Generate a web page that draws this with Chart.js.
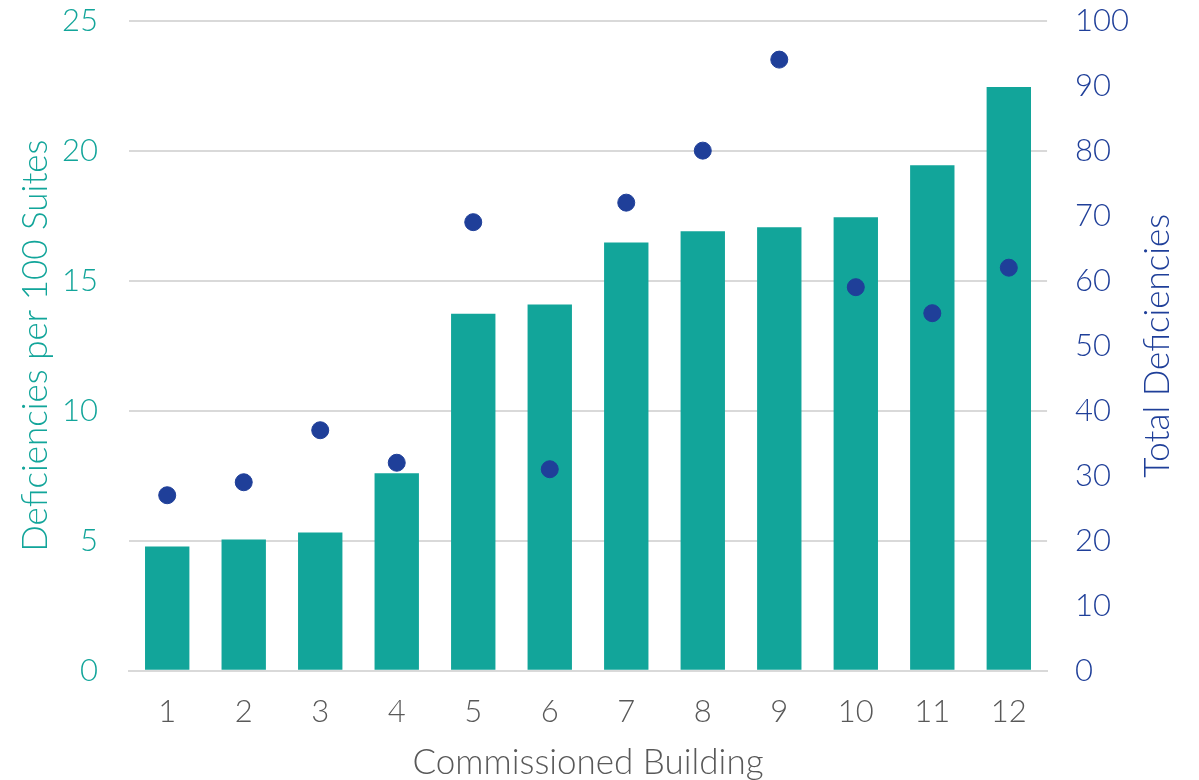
<!DOCTYPE html>
<html>
<head>
<meta charset="utf-8">
<script src="https://cdn.jsdelivr.net/npm/chart.js@4"></script>
<style>
  html, body { margin: 0; padding: 0; background: #fff; }
  #wrap { width: 1199px; height: 780px; }
</style>
</head>
<body>
<div id="wrap"><canvas id="myChart"></canvas></div>
<script>
const buildings = ['1', '2', '3', '4', '5', '6', '7', '8', '9', '10', '11', '12'];
const perSuites = [4.78, 5.05, 5.32, 7.6, 13.73, 14.08, 16.47, 16.9, 17.05, 17.44, 19.44, 22.45];
const totalDef = [27, 29, 37, 32, 69, 31, 72, 80, 94, 59, 55, 62];

const teal = '#12A59A';
const navy = '#1F3F99';
const grey = '#595959';
const fontFam = "Lato, 'Open Sans', sans-serif";

Chart.defaults.font.family = fontFam;
Chart.defaults.font.weight = '300';

// right axis title reads bottom-to-top like the left one
const rightTitle = {
    id: 'rightTitle',
    afterDraw(chart) {
        const c = chart.ctx;
        const a = chart.chartArea;
        c.save();
        c.translate(1158, (a.top + a.bottom) / 2);
        c.rotate(-Math.PI / 2);
        c.fillStyle = navy;
        c.font = "300 35px " + fontFam;
        c.textAlign = 'center';
        c.textBaseline = 'middle';
        c.fillText('Total Deficiencies', 0, 0);
        c.restore();
    }
};

const ctx = document.getElementById('myChart');

const myChart = new Chart(ctx, {
    data: {
        labels: buildings,
        datasets: [{
            type: 'scatter',
            label: 'Total Deficiencies',
            data: totalDef,
            yAxisID: 'y1',
            backgroundColor: navy,
            borderColor: navy,
            pointRadius: 8.5,
            showLine: false
        }, {
            type: 'bar',
            label: 'Deficiencies per 100 Suites',
            data: perSuites,
            yAxisID: 'y',
            backgroundColor: teal,
            categoryPercentage: 1,
            barPercentage: 0.58
        }]
    },
    options: {
        responsive: true,
        maintainAspectRatio: false,
        animation: false,
        layout: { padding: { top: 0, right: 68, left: 18, bottom: 0 } },
        plugins: {
            legend: { display: false },
            tooltip: { enabled: false }
        },
        scales: {
            x: {
                type: 'category',
                grid: { display: false, drawTicks: false },
                border: { color: '#d9d9d9', width: 2 },
                ticks: { color: grey, font: { size: 31 }, padding: 23 },
                title: { display: true, text: 'Commissioned Building', color: grey, font: { size: 35 }, padding: { top: -12, bottom: -4 } }
            },
            y: {
                position: 'left',
                min: 0,
                max: 25,
                ticks: { stepSize: 5, color: teal, font: { size: 31 }, padding: 2 },
                grid: { color: '#d9d9d9', lineWidth: 2, drawTicks: true, tickLength: 29, tickColor: 'rgba(0,0,0,0)' },
                border: { display: false },
                title: { display: true, text: 'Deficiencies per 100 Suites', color: teal, font: { size: 35, lineHeight: 1 }, padding: { top: 0, bottom: 7 } }
            },
            y1: {
                position: 'right',
                min: 0,
                max: 100,
                ticks: { stepSize: 10, color: navy, font: { size: 31 }, padding: 2 },
                grid: { drawOnChartArea: false, drawTicks: true, tickLength: 26, tickColor: 'rgba(0,0,0,0)' },
                border: { display: false }
            }
        }
    },
    plugins: [rightTitle]
});
</script>
</body>
</html>
